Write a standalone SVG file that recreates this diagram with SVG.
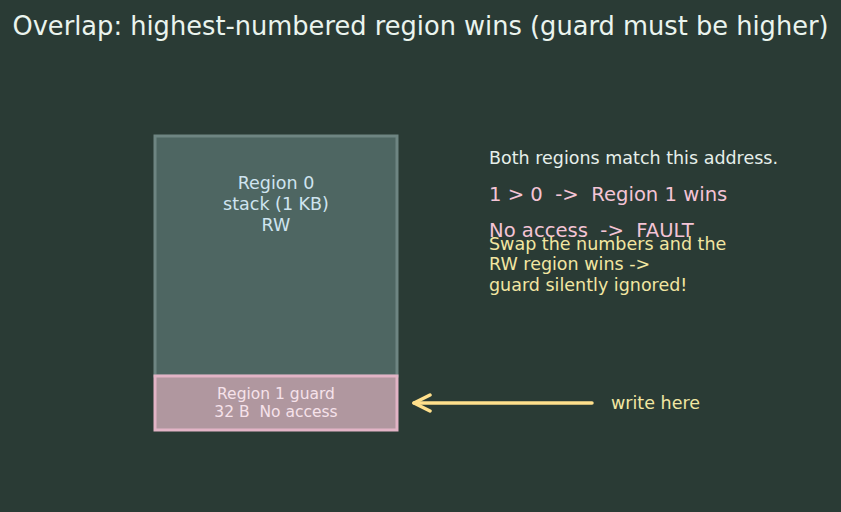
<svg xmlns="http://www.w3.org/2000/svg" width="841" height="512" viewBox="0 0 841 512">
<style>
text{font-family:"DejaVu Sans","Liberation Sans",sans-serif;white-space:pre}
.title{font-size:25.7px;fill:#eaf4ee}
.r0{font-size:17.5px;fill:#cfe4f0}
.r1{font-size:15.5px;fill:#f6e2ea}
.note{font-size:17.5px;fill:#e6efea}
.pink{font-size:19.6px;fill:#f4c4d6}
.yel{font-size:17.5px;fill:#f2e6a2}
</style>
<defs>
<marker id="ah" markerWidth="22" markerHeight="22" refX="18" refY="10" orient="auto" markerUnits="userSpaceOnUse">
<path d="M2,2 L18,10 L2,18" fill="none" stroke="#ffe08c" stroke-width="3.5" stroke-linecap="round" stroke-linejoin="round"/>
</marker>
</defs>
<rect width="841" height="512" fill="#2a3b35"/>
<text class="title" x="420.5" y="35" text-anchor="middle">Overlap: highest-numbered region wins (guard must be higher)</text>
<g id="region0">
<rect x="155" y="136" width="242" height="240" fill="#4e6662" stroke="#6e8582" stroke-width="3"/>
<text class="r0" x="276" y="188.5" text-anchor="middle">Region 0</text>
<text class="r0" x="276" y="209.5" text-anchor="middle">stack (1 KB)</text>
<text class="r0" x="276" y="230.5" text-anchor="middle">RW</text>
</g>
<g id="region1">
<rect x="155" y="376" width="242" height="54" fill="#b0979f" stroke="#e2b4c6" stroke-width="3"/>
<text class="r1" x="276" y="399" text-anchor="middle">Region 1 guard</text>
<text class="r1" x="276" y="417" text-anchor="middle" xml:space="preserve">32 B  No access</text>
</g>
<g id="connectors">
<path d="M592,403 L414,403" fill="none" stroke="#ffe08c" stroke-width="3.5" stroke-linecap="round" marker-end="url(#ah)"/>
</g>
<g id="labels">
<text class="yel" x="611" y="408.5">write here</text>
<text class="note" x="489" y="163.5">Both regions match this address.</text>
<text class="pink" x="489" y="200.5" xml:space="preserve">1 &gt; 0  -&gt;  Region 1 wins</text>
<text class="pink" x="489" y="236.5" xml:space="preserve">No access  -&gt;  FAULT</text>
<text class="yel" x="489" y="249.5">Swap the numbers and the</text>
<text class="yel" x="489" y="269.5">RW region wins -&gt;</text>
<text class="yel" x="489" y="290.5">guard silently ignored!</text>
</g>
</svg>
